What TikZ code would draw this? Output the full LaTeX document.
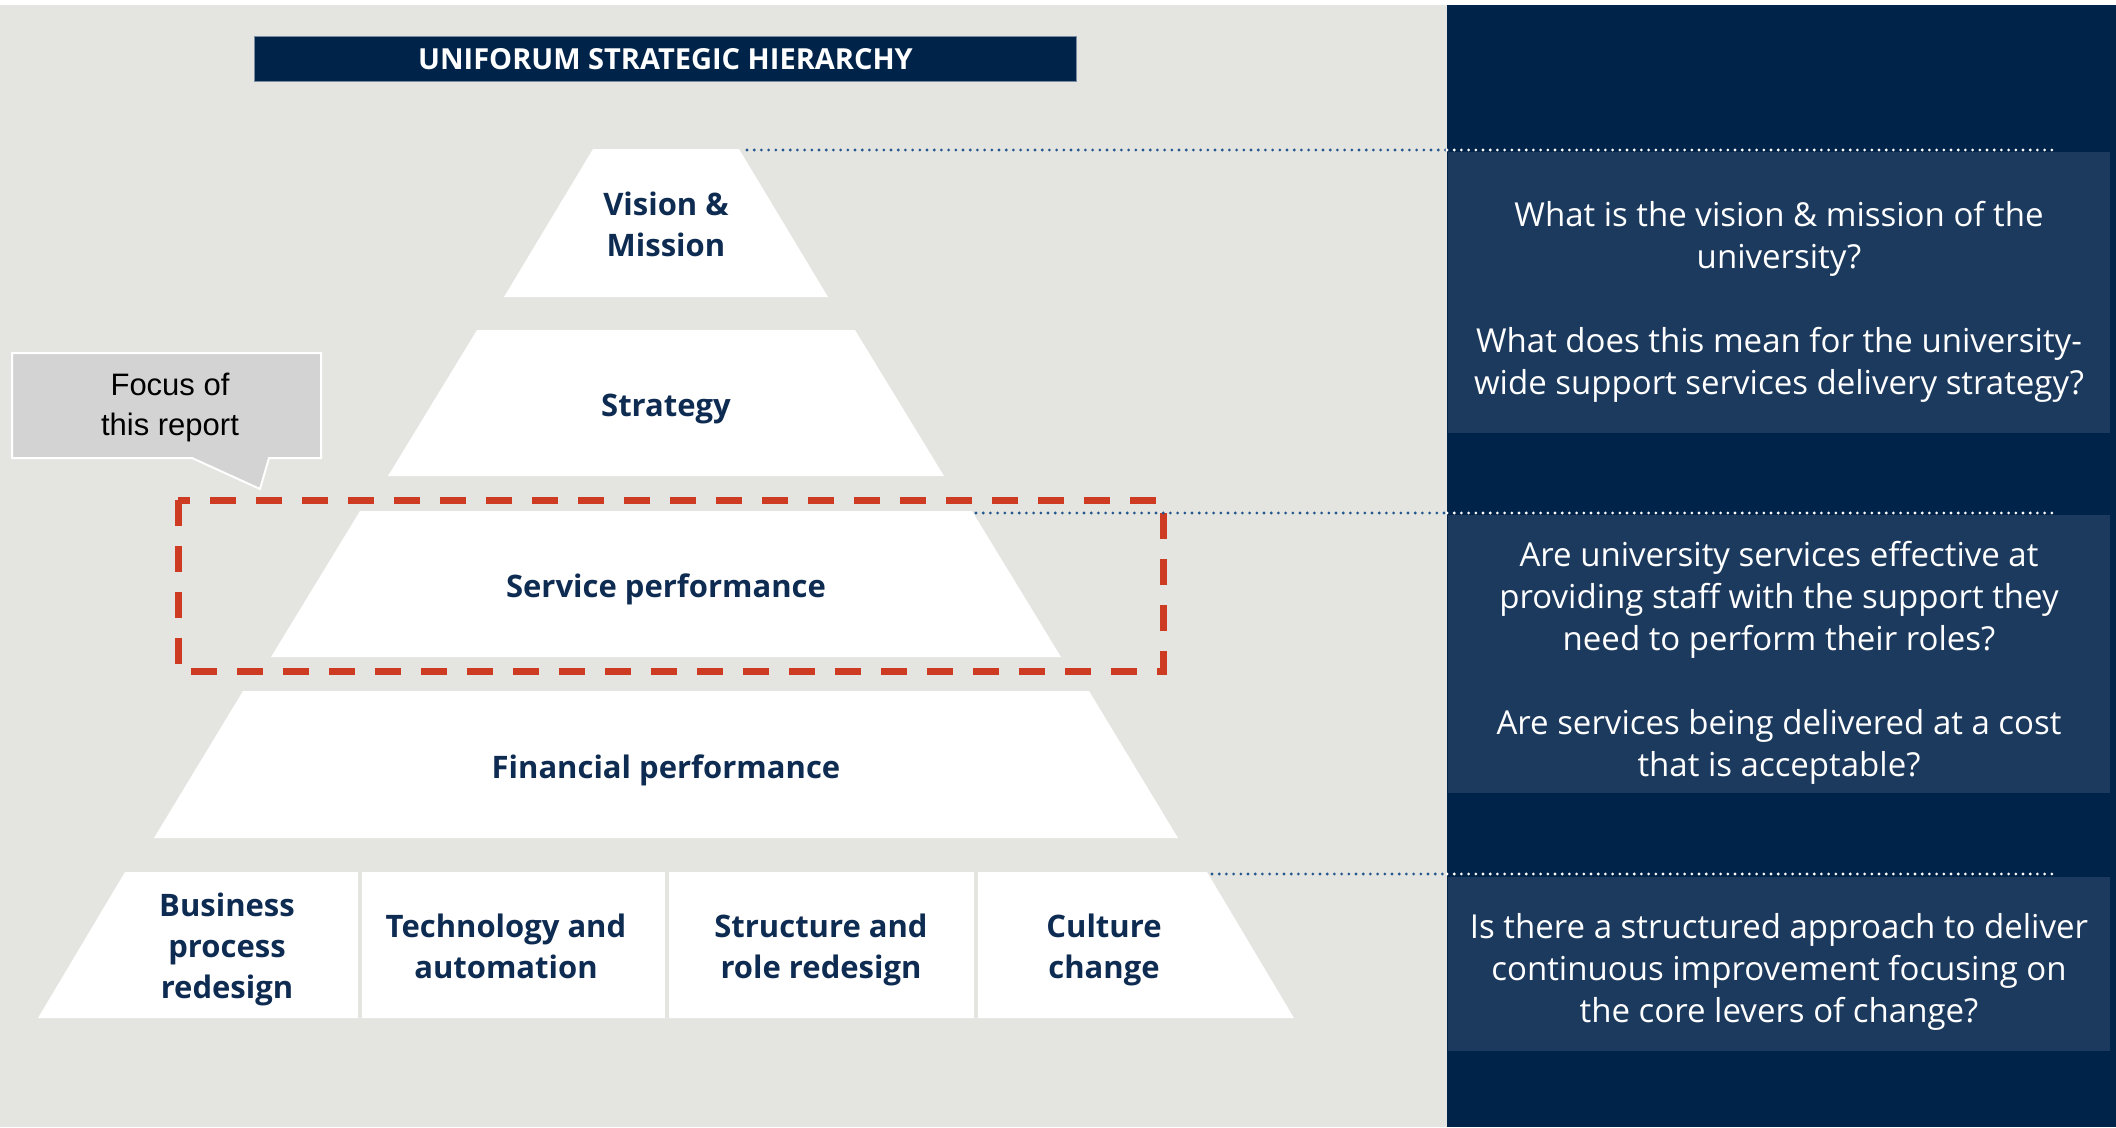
\documentclass[tikz,border=0pt]{standalone}
\usepackage{fontspec}
\setmainfont{Open Sans}
\newfontfamily\calloutfont{Liberation Sans}

\definecolor{bggray}{HTML}{E4E5E0}
\definecolor{panelnavy}{HTML}{00234A}
\definecolor{qfill}{HTML}{1C3A5E}
\definecolor{levelnavy}{HTML}{0E2B52}
\definecolor{focusred}{HTML}{CC3B22}
\definecolor{dotblue}{HTML}{25578F}
\definecolor{calloutgray}{HTML}{D3D3D3}
\definecolor{headedge}{HTML}{7A8BA2}

\tikzset{
  level/.style={fill=white},
  leveltext/.style={text=levelnavy, font=\bfseries\fontsize{31}{41}\selectfont, align=center,
    inner sep=0pt, execute at end node=\strut},
  headbox/.style={fill=panelnavy, draw=headedge, line width=1pt, text=white,
    font=\bfseries\fontsize{29}{34}\selectfont, minimum width=822pt, minimum height=45pt, inner sep=0pt},
  qbox/.style={fill=qfill, inner sep=0pt},
  qtext/.style={text=white, font=\fontsize{33}{42}\selectfont, align=center, inner sep=0pt},
  dotline/.style={line width=3.1pt, line cap=round, dash pattern=on 0pt off 7.2pt},
  divider/.style={draw=bggray, line width=4pt},
  focusbox/.style={draw=focusred, line width=7pt, dash pattern=on 26pt off 20pt},
  callout/.style={fill=calloutgray, draw=white, line width=2pt, line join=miter},
  callouttext/.style={text=black, font=\calloutfont\fontsize{31}{40}\selectfont, align=center, inner sep=0pt}
}

\begin{document}
\begin{tikzpicture}[x=1pt, y=-1pt]
  \useasboundingbox (0,0) rectangle (2116,1127);

  % page ground
  \fill[white] (0,0) rectangle (2116,1127);
  \fill[bggray] (0,5) rectangle (1447,1127);
  \fill[panelnavy] (1447,5) rectangle (2116,1127);

  % title bar
  \node[headbox] (title) at (665.5,59) {UNIFORUM STRATEGIC HIERARCHY};

  % pyramid levels
  \fill[level] (593,149) -- (739,149) -- (828,297) -- (504,297) -- cycle;
  \fill[level] (477,330) -- (855,330) -- (944,476) -- (388,476) -- cycle;
  \fill[level] (360,511) -- (972,511) -- (1061,657) -- (271,657) -- cycle;
  \fill[level] (243,691) -- (1089,691) -- (1178,838) -- (154,838) -- cycle;
  \fill[level] (125,872) -- (1207,872) -- (1294,1018) -- (38,1018) -- cycle;

  % separators in the base row
  \draw[divider] (360,872) -- (360,1018);
  \draw[divider] (667,872) -- (667,1018);
  \draw[divider] (976,872) -- (976,1018);

  % level labels
  \node[leveltext] (vision) at (666,230) {Vision \&\\Mission};
  \node[leveltext] (strategy) at (666,408.5) {Strategy};
  \node[leveltext] (service) at (666,589.5) {Service performance};
  \node[leveltext] (financial) at (666,770) {Financial performance};
  \node[leveltext] (bpr) at (227,952) {Business\\process\\redesign};
  \node[leveltext] (tech) at (506,952) {Technology and\\automation};
  \node[leveltext] (struct) at (821,952) {Structure and\\role redesign};
  \node[leveltext] (culture) at (1104,952) {Culture\\change};

  % focus frame around the service level
  \draw[focusbox] (178,500) rectangle (1163,671);

  % callout
  \draw[callout] (12,353) -- (321,353) -- (321,458) -- (269,458) -- (260,489)
    -- (192,458) -- (12,458) -- cycle;
  \node[callouttext] (focus) at (170,407) {Focus of\\this report};

  % question panels
  \node[qbox, minimum width=662pt, minimum height=281pt] (q1) at (1779,292.5) {};
  \node[qbox, minimum width=662pt, minimum height=278pt] (q2) at (1779,654) {};
  \node[qbox, minimum width=662pt, minimum height=174pt] (q3) at (1779,964) {};
  \node[qtext] (q1t) at (1779,302) {What is the vision \& mission of the\\university?\\[42pt]What does this mean for the university-\\wide support services delivery strategy?};
  \node[qtext] (q2t) at (1779,662.5) {Are university services effective at\\providing staff with the support they\\need to perform their roles?\\[42pt]Are services being delivered at a cost\\that is acceptable?};
  \node[qtext] (q3t) at (1779,971.5) {Is there a structured approach to deliver\\continuous improvement focusing on\\the core levers of change?};

  % dotted leader lines from the pyramid to the panels
  \coordinate (s1) at (747,150);  \coordinate (m1) at (1447,150); \coordinate (e1) at (2058,150);
  \coordinate (s2) at (976,513);  \coordinate (m2) at (1447,513); \coordinate (e2) at (2058,513);
  \coordinate (s3) at (1212,874); \coordinate (m3) at (1447,874); \coordinate (e3) at (2058,874);
  \draw[dotline, draw=dotblue] (s1) -- (m1);
  \draw[dotline, draw=white] (m1) -- (e1);
  \draw[dotline, draw=dotblue] (s2) -- (m2);
  \draw[dotline, draw=white] (m2) -- (e2);
  \draw[dotline, draw=dotblue] (s3) -- (m3);
  \draw[dotline, draw=white] (m3) -- (e3);
\end{tikzpicture}
\end{document}
